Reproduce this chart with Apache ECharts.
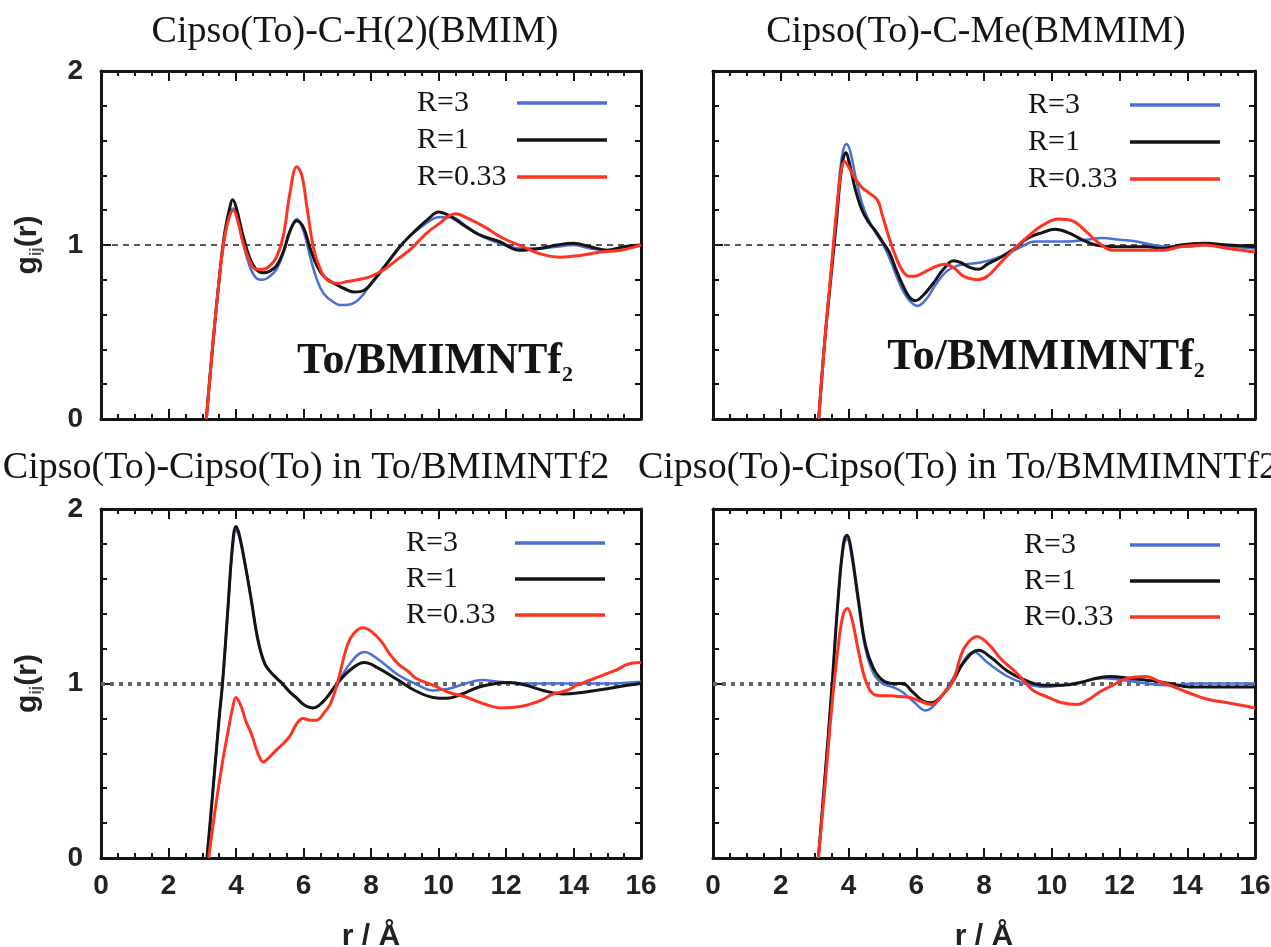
<!DOCTYPE html>
<html>
<head>
<meta charset="utf-8">
<script src="https://cdn.jsdelivr.net/npm/echarts@6/dist/echarts.min.js"></script>
<style>
  html, body { margin: 0; padding: 0; background: #ffffff; }
  #chart { width: 1271px; height: 947px; }
</style>
</head>
<body>
<div id="chart"></div>
<script>
// ---- radial distribution functions g_ij(r), pairs of [r (Å), g] ----
const seriesNames = ['R=3', 'R=1', 'R=0.33'];

// Cipso(To)-C-H(2)(BMIM)
const tlR3 = [[3.12,0],[3.3,0.4],[3.5,0.8],[3.65,1.03],[3.8,1.17],[3.92,1.21],[4.05,1.15],[4.2,1.02],[4.4,0.88],[4.6,0.81],[4.8,0.8],[5.0,0.82],[5.2,0.86],[5.4,0.95],[5.6,1.08],[5.8,1.15],[6.0,1.08],[6.2,0.93],[6.4,0.8],[6.6,0.72],[6.9,0.67],[7.1,0.655],[7.4,0.66],[7.7,0.7],[8.0,0.78],[8.4,0.88],[8.8,0.98],[9.2,1.06],[9.6,1.12],[10.0,1.16],[10.4,1.16],[10.8,1.11],[11.3,1.05],[11.8,1.01],[12.4,0.98],[13.0,0.98],[13.5,0.99],[14.0,1.0],[14.5,0.98],[15.0,0.97],[15.5,0.99],[16,1.0]];
const tlR1 = [[3.12,0],[3.3,0.4],[3.5,0.8],[3.65,1.05],[3.8,1.2],[3.9,1.26],[4.0,1.22],[4.2,1.06],[4.4,0.93],[4.6,0.86],[4.8,0.84],[5.0,0.85],[5.2,0.88],[5.4,0.96],[5.6,1.08],[5.8,1.14],[6.0,1.1],[6.2,0.98],[6.4,0.88],[6.6,0.82],[6.9,0.78],[7.2,0.75],[7.5,0.73],[7.8,0.74],[8.1,0.8],[8.5,0.9],[8.9,1.0],[9.3,1.08],[9.7,1.15],[10.0,1.19],[10.3,1.17],[10.7,1.12],[11.2,1.06],[11.8,1.02],[12.4,0.97],[13.0,0.98],[13.5,1.0],[14.0,1.01],[14.5,0.99],[15.0,0.97],[15.5,0.99],[16,1.0]];
const tlR033 = [[3.12,0],[3.3,0.4],[3.5,0.8],[3.65,1.03],[3.8,1.16],[3.92,1.2],[4.05,1.14],[4.2,1.02],[4.4,0.91],[4.6,0.86],[4.8,0.86],[5.0,0.88],[5.2,0.93],[5.4,1.05],[5.6,1.3],[5.8,1.45],[5.95,1.4],[6.1,1.22],[6.3,0.98],[6.5,0.86],[6.7,0.8],[7.0,0.78],[7.3,0.79],[7.6,0.8],[8.0,0.82],[8.4,0.86],[8.8,0.92],[9.2,0.98],[9.6,1.06],[10.0,1.12],[10.5,1.18],[10.9,1.15],[11.4,1.1],[11.9,1.04],[12.5,0.99],[13.0,0.95],[13.6,0.93],[14.2,0.94],[14.8,0.96],[15.4,0.97],[16,1.0]];

// Cipso(To)-C-Me(BMMIM)
const trR3 = [[3.12,0],[3.3,0.45],[3.5,0.88],[3.65,1.2],[3.8,1.5],[3.94,1.58],[4.05,1.54],[4.2,1.4],[4.4,1.24],[4.6,1.14],[4.8,1.07],[5.0,1.01],[5.2,0.93],[5.4,0.83],[5.6,0.74],[5.8,0.68],[6.03,0.65],[6.3,0.69],[6.6,0.78],[6.9,0.85],[7.2,0.88],[7.5,0.89],[7.9,0.9],[8.3,0.92],[8.7,0.95],[9.1,0.99],[9.5,1.02],[10.0,1.02],[10.5,1.02],[11.0,1.03],[11.5,1.04],[12.0,1.03],[12.5,1.02],[13.0,1.0],[13.5,0.99],[14.0,0.99],[14.6,1.0],[15.3,0.99],[16,0.98]];
const trR1 = [[3.12,0],[3.3,0.45],[3.5,0.85],[3.65,1.15],[3.8,1.45],[3.92,1.53],[4.05,1.45],[4.2,1.32],[4.4,1.2],[4.6,1.13],[4.8,1.08],[5.0,1.02],[5.2,0.96],[5.4,0.86],[5.6,0.77],[5.8,0.7],[5.97,0.68],[6.2,0.71],[6.5,0.78],[6.8,0.86],[7.1,0.91],[7.3,0.9],[7.6,0.87],[7.85,0.86],[8.1,0.89],[8.5,0.93],[8.9,0.98],[9.3,1.04],[9.7,1.07],[10.1,1.09],[10.5,1.07],[10.9,1.03],[11.3,1.0],[11.8,0.99],[12.3,0.99],[12.8,0.99],[13.3,0.98],[13.8,1.0],[14.5,1.01],[15.2,1.0],[16,0.99]];
const trR033 = [[3.12,0],[3.3,0.45],[3.5,0.88],[3.65,1.2],[3.78,1.42],[3.88,1.48],[4.0,1.45],[4.2,1.38],[4.4,1.33],[4.6,1.3],[4.85,1.26],[5.0,1.17],[5.2,1.04],[5.4,0.93],[5.6,0.85],[5.8,0.82],[5.95,0.82],[6.2,0.84],[6.5,0.87],[6.85,0.89],[7.1,0.87],[7.4,0.82],[7.8,0.8],[8.1,0.82],[8.5,0.9],[8.9,0.98],[9.3,1.05],[9.7,1.11],[10.2,1.15],[10.6,1.14],[11.0,1.08],[11.4,1.01],[11.8,0.97],[12.3,0.97],[12.8,0.97],[13.3,0.97],[13.8,0.99],[14.5,1.0],[15.2,0.98],[16,0.96]];

// Cipso(To)-Cipso(To) in To/BMIMNTf2
const blR3 = [[3.14,0],[3.3,0.35],[3.5,0.8],[3.6,1.0],[3.75,1.4],[3.9,1.78],[4.0,1.88],[4.1,1.84],[4.3,1.65],[4.46,1.47],[4.65,1.25],[4.86,1.11],[5.1,1.05],[5.37,1.0],[5.6,0.95],[5.78,0.92],[6.0,0.88],[6.28,0.86],[6.6,0.9],[7.0,1.0],[7.4,1.12],[7.8,1.18],[8.2,1.14],[8.8,1.05],[9.3,1.0],[9.84,0.96],[10.3,0.97],[10.8,1.0],[11.3,1.02],[11.8,1.01],[12.5,1.0],[13.2,1.0],[14.0,1.0],[15.0,1.0],[16,1.01]];
const blR1 = [[3.14,0],[3.3,0.35],[3.5,0.8],[3.6,1.0],[3.75,1.4],[3.9,1.8],[4.0,1.9],[4.1,1.85],[4.3,1.65],[4.46,1.47],[4.65,1.25],[4.86,1.11],[5.1,1.05],[5.37,1.0],[5.6,0.95],[5.78,0.92],[6.0,0.88],[6.28,0.86],[6.6,0.9],[7.0,1.0],[7.4,1.08],[7.8,1.12],[8.2,1.09],[8.8,1.02],[9.3,0.96],[9.84,0.92],[10.25,0.915],[10.7,0.94],[11.2,0.98],[11.7,1.0],[12.1,1.006],[12.6,0.99],[13.1,0.96],[13.7,0.94],[14.3,0.95],[15.0,0.97],[15.6,0.99],[16,1.0]];
const blR033 = [[3.19,0],[3.4,0.3],[3.6,0.55],[3.75,0.71],[3.9,0.86],[4.0,0.92],[4.15,0.87],[4.3,0.78],[4.46,0.71],[4.65,0.6],[4.81,0.55],[5.0,0.58],[5.2,0.62],[5.37,0.65],[5.6,0.7],[5.8,0.77],[5.98,0.8],[6.2,0.79],[6.39,0.79],[6.6,0.83],[6.79,0.88],[7.0,1.0],[7.3,1.22],[7.5,1.29],[7.76,1.32],[8.0,1.3],[8.31,1.24],[8.55,1.17],[8.82,1.11],[9.1,1.07],[9.33,1.03],[9.84,0.99],[10.3,0.95],[10.85,0.92],[11.4,0.88],[11.87,0.86],[12.48,0.87],[13.0,0.9],[13.4,0.94],[13.8,0.96],[14.1,0.99],[14.5,1.02],[14.9,1.05],[15.3,1.08],[15.6,1.11],[16,1.12]];

// Cipso(To)-Cipso(To) in To/BMMIMNTf2
const brR3 = [[3.11,0],[3.3,0.45],[3.5,0.95],[3.7,1.5],[3.85,1.78],[3.95,1.83],[4.05,1.78],[4.3,1.45],[4.5,1.2],[4.73,1.06],[5.0,1.0],[5.3,0.98],[5.6,0.95],[5.9,0.9],[6.28,0.845],[6.6,0.89],[7.0,1.0],[7.3,1.1],[7.7,1.18],[8.1,1.12],[8.7,1.04],[9.2,1.0],[9.77,0.98],[10.3,0.99],[10.9,1.01],[11.5,1.03],[12.1,1.02],[12.8,1.0],[13.5,0.99],[14.2,1.0],[15.0,1.0],[16,1.0]];
const brR1 = [[3.11,0],[3.3,0.45],[3.5,0.95],[3.7,1.5],[3.85,1.8],[3.95,1.85],[4.05,1.8],[4.3,1.47],[4.5,1.22],[4.73,1.09],[5.0,1.02],[5.3,1.0],[5.59,1.0],[5.9,0.95],[6.2,0.9],[6.44,0.89],[6.8,0.94],[7.09,1.015],[7.4,1.12],[7.84,1.19],[8.2,1.15],[8.7,1.07],[9.2,1.02],[9.77,0.99],[10.3,0.99],[10.85,1.005],[11.3,1.03],[11.7,1.04],[12.3,1.03],[13.0,1.015],[13.5,1.0],[14.07,0.98],[14.8,0.98],[15.5,0.98],[16,0.98]];
const brR033 = [[3.11,0],[3.3,0.4],[3.5,0.85],[3.7,1.22],[3.85,1.4],[3.97,1.43],[4.1,1.37],[4.3,1.18],[4.5,1.02],[4.73,0.94],[5.0,0.93],[5.26,0.93],[5.5,0.925],[5.8,0.92],[6.1,0.9],[6.44,0.88],[6.8,0.94],[7.09,1.015],[7.3,1.15],[7.47,1.22],[7.79,1.27],[8.16,1.22],[8.5,1.14],[8.91,1.07],[9.2,1.01],[9.45,0.96],[9.9,0.92],[10.3,0.89],[10.74,0.88],[11.1,0.91],[11.4,0.95],[11.8,0.99],[12.24,1.03],[12.78,1.04],[13.2,1.01],[13.5,0.99],[14.0,0.95],[14.6,0.91],[15.2,0.89],[15.9,0.864],[16,0.86]];

const panelTitles = [
  'Cipso(To)-C-H(2)(BMIM)',
  'Cipso(To)-C-Me(BMMIM)',
  'Cipso(To)-Cipso(To) in To/BMIMNTf2',
  'Cipso(To)-Cipso(To) in To/BMMIMNTf2'
];
const panelTags = ['To/BMIMNTf', 'To/BMMIMNTf'];
const rRange = [0, 16];
const gRange = [0, 2];
const gBulk = 1;          // g(r) -> 1 at long range
const xAxisTitle = 'r / Å';

const panelData = [
  [tlR3, tlR1, tlR033],
  [trR3, trR1, trR033],
  [blR3, blR1, blR033],
  [brR3, brR1, brR033]
];

// ---- layout / style ----
const grids = [
  { left: 101, top: 71,  width: 540, height: 348 },
  { left: 713, top: 71,  width: 542, height: 348 },
  { left: 101, top: 509, width: 540, height: 349 },
  { left: 713, top: 509, width: 542, height: 349 }
];
const lineColors = ['#4a6fd6', '#141414', '#ff3320'];
const lineWidths = [2.5, 3, 3];
const INK = '#141414';
const SANS = 'Liberation Sans, Arial, sans-serif';
const SERIF = 'Liberation Serif, Times New Roman, serif';

const axisLine = { show: true, onZero: false, lineStyle: { color: INK, width: 3 } };

const xAxes = [], yAxes = [], series = [];
grids.forEach((g, i) => {
  const bottomRow = i >= 2, leftCol = i % 2 === 0;
  const tickX = { show: true, inside: true, length: 10, lineStyle: { color: INK, width: 2 } };
  const minorX = { show: true, splitNumber: 4, length: 5, lineStyle: { color: INK, width: 2 } };
  const tickY = { show: true, inside: true, length: 10, lineStyle: { color: INK, width: 2 } };
  const minorY = { show: true, splitNumber: 5, length: 6, lineStyle: { color: INK, width: 2 } };
  xAxes.push({
    type: 'value', gridIndex: i, position: 'bottom', min: rRange[0], max: rRange[1], interval: 2,
    axisLine, axisTick: tickX, minorTick: minorX, splitLine: { show: false }, minorSplitLine: { show: false },
    axisLabel: { show: bottomRow, margin: 14, fontSize: 28, fontWeight: 'bold', fontFamily: SANS, color: '#222' },
    name: bottomRow ? xAxisTitle : '', nameLocation: 'middle', nameGap: 64,
    nameTextStyle: { fontSize: 30, fontWeight: 'bold', fontFamily: SANS, color: '#222' }
  });
  xAxes.push({
    type: 'value', gridIndex: i, position: 'top', min: rRange[0], max: rRange[1], interval: 2,
    axisLine, axisTick: tickX, minorTick: minorX, splitLine: { show: false }, axisLabel: { show: false }
  });
  yAxes.push({
    type: 'value', gridIndex: i, position: 'left', min: gRange[0], max: gRange[1], interval: 1,
    axisLine, axisTick: tickY, minorTick: minorY, splitLine: { show: false }, minorSplitLine: { show: false },
    axisLabel: { show: leftCol, margin: 18, fontSize: 28, fontWeight: 'bold', fontFamily: SANS, color: '#222' },
    name: leftCol ? '{m|g}{s|ij}{m|(r)}' : '', nameLocation: 'middle', nameRotate: 90, nameGap: 56,
    nameTextStyle: {
      rich: {
        m: { fontSize: 30, fontWeight: 'bold', fontFamily: SANS, color: '#222', lineHeight: 34 },
        s: { fontSize: 16, fontWeight: 'bold', fontFamily: SANS, color: '#555', verticalAlign: 'bottom', lineHeight: 34, padding: [14, 0, 0, 0] }
      }
    }
  });
  yAxes.push({
    type: 'value', gridIndex: i, position: 'right', min: gRange[0], max: gRange[1], interval: 1,
    axisLine, axisTick: tickY, minorTick: minorY, splitLine: { show: false }, axisLabel: { show: false }
  });

  const topRow = i < 2;
  panelData[i].forEach((data, k) => {
    const s = {
      type: 'line', name: seriesNames[k], data,
      xAxisIndex: 2 * i, yAxisIndex: 2 * i,
      smooth: 0.4, symbol: 'none', showSymbol: false,
      color: lineColors[k],
      lineStyle: { color: lineColors[k], width: lineWidths[k], join: 'round' },
      z: 3 + k, silent: true
    };
    if (k === 0) {
      s.markLine = {
        silent: true, symbol: 'none', label: { show: false },
        lineStyle: topRow
          ? { color: '#222', width: 1.6, type: [6, 5] }
          : { color: '#666', width: 4, type: [4, 5] },
        data: [{ yAxis: gBulk }],
        z: 1
      };
    }
    series.push(s);
  });
});

// legends: label on the left, sample line on the right
const legendSpots = [
  { left: 417,  top: 88,  w: 95,  gap: 7 },
  { left: 1028, top: 90,  w: 97,  gap: 7 },
  { left: 406,  top: 528, w: 104, gap: 6 },
  { left: 1024, top: 530, w: 101, gap: 6 }
];
const legends = legendSpots.map(p => ({
  data: seriesNames, orient: 'vertical', left: p.left, top: p.top, align: 'right',
  icon: 'rect', itemWidth: 90, itemHeight: 3.5, itemGap: p.gap, padding: 0, selectedMode: false,
  formatter: n => '{t|' + n + '}',
  textStyle: { rich: { t: { width: p.w, align: 'left', fontSize: 30, fontFamily: SERIF, color: INK } } }
}));

const titleSpots = [[355, 32], [976, 32], [306, 468], [958, 468]];
const graphics = titleSpots.map((p, i) => ({
  type: 'text', x: p[0], y: p[1], silent: true,
  style: { text: panelTitles[i], fontSize: 38, fontFamily: SERIF, fill: INK, align: 'center', verticalAlign: 'middle' }
}));
const tagSpots = [[435, 362], [1046, 358]];
tagSpots.forEach((p, i) => {
  graphics.push({
    type: 'text', x: p[0], y: p[1], silent: true, z: 10,
    style: {
      text: '{a|' + panelTags[i] + '}{b|2}', align: 'center', verticalAlign: 'middle',
      rich: {
        a: { fontSize: 44, fontWeight: 'bold', fontFamily: SERIF, fill: INK, lineHeight: 48 },
        b: { fontSize: 22, fontWeight: 'bold', fontFamily: SERIF, fill: INK, verticalAlign: 'bottom', lineHeight: 48, padding: [18, 0, 0, 0] }
      }
    }
  });
});

const chart = echarts.init(document.getElementById('chart'), null, { renderer: 'canvas' });
chart.setOption({
  animation: false,
  backgroundColor: '#ffffff',
  grid: grids.map(g => Object.assign({ outerBoundsMode: 'none', containLabel: false }, g)),
  xAxis: xAxes,
  yAxis: yAxes,
  legend: legends,
  series,
  graphic: graphics
});
</script>
</body>
</html>
